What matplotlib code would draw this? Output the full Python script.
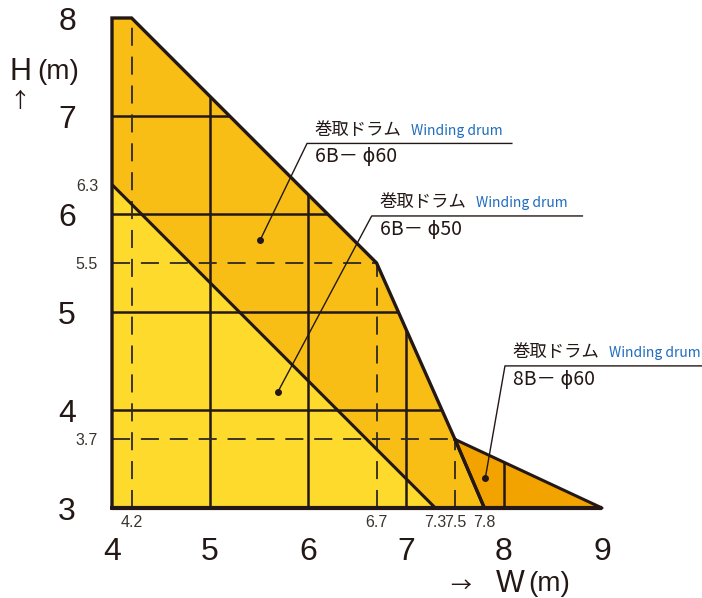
import numpy as np
import matplotlib.pyplot as plt
from matplotlib.patches import Polygon

plt.rcParams['font.family'] = ['Liberation Sans', 'Noto Sans CJK JP', 'DejaVu Sans']
JP = ['Noto Sans CJK JP', 'DejaVu Sans']

# capacity boundaries (W, H)
w_60 = [4.0, 4.0, 4.2, 6.7, 7.5, 7.8]
h_60 = [3.0, 8.0, 8.0, 5.5, 3.7, 3.0]
w_50 = [4.0, 4.0, 7.3]
h_50 = [3.0, 6.3, 3.0]
w_8b = [7.5, 9.0, 7.8]
h_8b = [3.7, 3.0, 3.0]

# reference lines
ref_w = [4.2, 6.7, 7.5]
ref_h = [8.0, 5.5, 3.7]

x_major = [4, 5, 6, 7, 8, 9]
x_minor = [4.2, 6.7, 7.3, 7.5, 7.8]
y_major = [3, 4, 5, 6, 7, 8]
y_minor = [3.7, 5.5, 6.3]

labels = ['6B－ ϕ60', '6B－ ϕ50', '8B－ ϕ60']

c_light = '#FEDA2C'
c_mid = '#F9BE16'
c_dark = '#F3A300'
ink = '#231815'

fig = plt.figure(figsize=(7.02, 5.98), dpi=100)
ax = fig.add_axes([112/702, 90/598, 490/702, 490/598])
ax.set_xlim(4, 9)
ax.set_ylim(3, 8)
for s in ax.spines.values():
    s.set_visible(False)

p60 = Polygon(np.column_stack([w_60, h_60]), closed=True, fc=c_mid, ec='none', zorder=1)
p50 = Polygon(np.column_stack([w_50, h_50]), closed=True, fc=c_light, ec='none', zorder=2)
p8b = Polygon(np.column_stack([w_8b, h_8b]), closed=True, fc=c_dark, ec='none', zorder=1)
for p in (p60, p50, p8b):
    ax.add_patch(p)

# outline of all regions used for clipping the grid
clip = Polygon(np.column_stack([w_60[:5] + [9.0], h_60[:5] + [3.0]]), closed=True,
               fc='none', ec='none', transform=ax.transData)
ax.add_patch(clip)
for v in x_major[1:-1]:
    ln = ax.axvline(v, color=ink, lw=1.8, zorder=3)
    ln.set_clip_path(clip)
for v in y_major[1:-1]:
    ln = ax.axhline(v, color=ink, lw=1.8, zorder=3)
    ln.set_clip_path(clip)

# dashed guide lines
for w, h in zip(ref_w, ref_h):
    ax.plot([w, w], [3, h], color='#2e2826', lw=1.3, ls=(0, (10, 6)), zorder=4)
    if h < 8:
        ax.plot([4, w], [h, h], color='#2e2826', lw=1.3, ls=(0, (10, 6)), zorder=4)

# outlines
ax.plot(w_60 + [w_60[0]], h_60 + [h_60[0]], color=ink, lw=2.4, zorder=5,
        solid_joinstyle='miter', clip_on=False)
ax.plot(w_50[1:], h_50[1:], color=ink, lw=2.2, zorder=5)
ax.plot(w_8b + [w_8b[0]], h_8b + [h_8b[0]], color=ink, lw=2.2, zorder=5, clip_on=False)
ax.plot([4, 9], [3, 3], color=ink, lw=3, zorder=6, clip_on=False, solid_capstyle='butt')

# ticks
ax.set_xticks(x_major)
ax.set_xticklabels([str(v) for v in x_major])
ax.set_xticks(x_minor, minor=True)
ax.set_xticklabels([str(v) for v in x_minor], minor=True)
ax.set_yticks(y_major)
ax.set_yticklabels([str(v) for v in y_major])
ax.set_yticks(y_minor, minor=True)
ax.set_yticklabels([str(v) for v in y_minor], minor=True)
ax.tick_params(which='major', length=0, labelsize=23, labelcolor=ink)
ax.tick_params(which='minor', length=0, labelsize=11.5, labelcolor='#3a3330')
ax.tick_params(axis='x', which='major', pad=21)
ax.tick_params(axis='x', which='minor', pad=5)
ax.tick_params(axis='y', which='major', pad=26)
ax.tick_params(axis='y', which='minor', pad=10)

# callouts: dot, underline start, underline end
dots = [(5.51, 5.73), (5.69, 4.18), (7.81, 3.31)]
lines = [(5.99, 6.72, 8.08), (6.65, 5.98, 8.80), (8.01, 4.45, 10.02)]
for (dx, dy), (x0, y0, x1), lab in zip(dots, lines, labels):
    ax.plot([dx], [dy], 'o', color=ink, ms=4, zorder=7)
    ax.plot([dx, x0, x1], [dy, y0, y0], color=ink, lw=1.0, zorder=7, clip_on=False)
    ax.text(x0 + 0.08, y0 + 0.05, '巻取ドラム', family=JP, fontsize=12.5, color=ink,
            ha='left', va='bottom', zorder=8)
    ax.text(x0 + 1.06, y0 + 0.06, 'Winding drum', family=JP, fontsize=10,
            color='#1F6DBF', ha='left', va='bottom', zorder=8)
    ax.text(x0 + 0.08, y0 - 0.03, lab, family=JP, fontsize=14, color=ink,
            ha='left', va='top', zorder=8)

fig.text(9/702, 1 - 72/598, 'H', fontsize=22, color=ink, ha='left', va='center')
fig.text(37/702, 1 - 72/598, '(m)', fontsize=20, color=ink, ha='left', va='center')
fig.text(20/702, 1 - 101/598, '↑', family=JP, fontsize=15, color=ink,
         ha='center', va='center')
fig.text(461/702, 1 - 586/598, '→', family=JP, fontsize=15, color=ink,
         ha='center', va='center')
fig.text(496/702, 1 - 584/598, 'W', fontsize=22, color=ink, ha='left', va='center')
fig.text(528/702, 1 - 584/598, '(m)', fontsize=20, color=ink, ha='left', va='center')

plt.savefig('out.png', dpi=100)
